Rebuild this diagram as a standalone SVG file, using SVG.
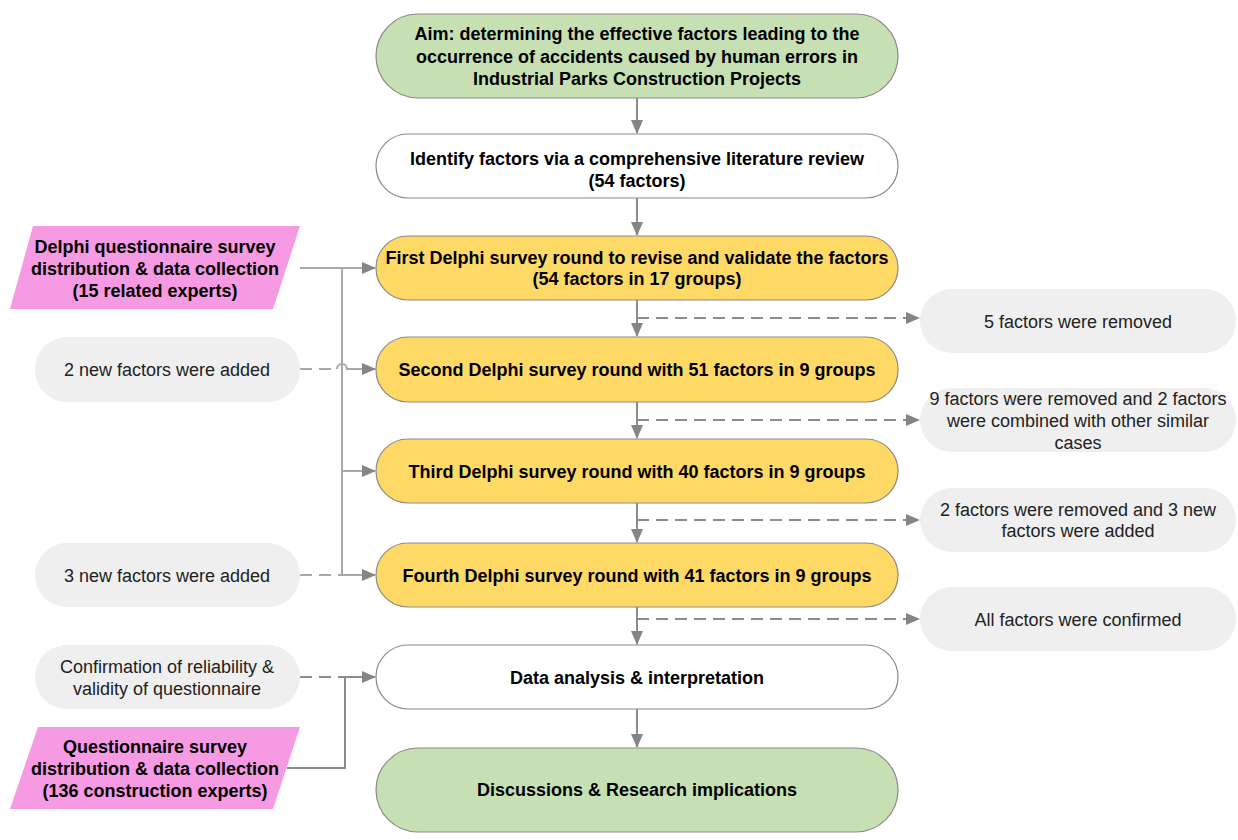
<svg xmlns="http://www.w3.org/2000/svg" width="1238" height="840" viewBox="0 0 1238 840">
<style>
.main{stroke:#8a8a8a;stroke-width:1.2}
.green{fill:#c6e0b4}
.yellow{fill:#ffd966}
.white{fill:#ffffff}
.pink{fill:#f59ae3}
.gray{fill:#efefef}
.tb{font-family:"Liberation Sans",Arial,sans-serif;font-weight:bold;font-size:18px;fill:#000;text-anchor:middle}
.tr{font-family:"Liberation Sans",Arial,sans-serif;font-size:18px;fill:#222;text-anchor:middle}
.ln{fill:none;stroke:#8c8c8c;stroke-width:2}
.lnl{fill:none;stroke:#a8a8a8;stroke-width:2}
.dash{stroke-dasharray:12 7}
</style>
<defs>
<marker id="ah" markerUnits="userSpaceOnUse" markerWidth="14" markerHeight="12" refX="13" refY="6" orient="auto">
<path d="M0,0 L14,6 L0,12 z" fill="#858585"/>
</marker>
</defs>
<rect width="1238" height="840" fill="#ffffff"/>

<g id="connectors">
<path class="ln" d="M637,98 V133" marker-end="url(#ah)"/>
<path class="ln" d="M637,198 V235" marker-end="url(#ah)"/>
<path class="ln" d="M637,300 V336" marker-end="url(#ah)"/>
<path class="ln" d="M637,402 V438" marker-end="url(#ah)"/>
<path class="ln" d="M637,503 V542" marker-end="url(#ah)"/>
<path class="ln" d="M637,607 V644" marker-end="url(#ah)"/>
<path class="ln" d="M637,709 V747" marker-end="url(#ah)"/>
<path class="ln dash" d="M637,318 H919" marker-end="url(#ah)"/>
<path class="ln dash" d="M637,420 H919" marker-end="url(#ah)"/>
<path class="ln dash" d="M637,520 H919" marker-end="url(#ah)"/>
<path class="ln dash" d="M637,619 H919" marker-end="url(#ah)"/>
<path class="lnl" d="M300,268 H375" marker-end="url(#ah)"/>
<path class="lnl" d="M342,268 V575 H375" marker-end="url(#ah)"/>
<path class="lnl" d="M342,471 H375" marker-end="url(#ah)"/>
<path class="lnl dash" d="M300,369 H337"/>
<path class="lnl" d="M337,369 A5,5 0 0 1 347,369 H375" marker-end="url(#ah)"/>
<path class="lnl dash" d="M300,575 H342"/>
<path class="ln dash" d="M300,677 H345"/>
<path class="ln" d="M287,768 H345 V677 H375" marker-end="url(#ah)"/>
</g>

<g id="aim">
<rect class="main green" x="376" y="14" width="522" height="84" rx="42"/>
<text class="tb" x="637" y="40">Aim: determining the effective factors leading to the</text>
<text class="tb" x="637" y="63">occurrence of accidents caused by human errors in</text>
<text class="tb" x="637" y="85">Industrial Parks Construction Projects</text>
</g>
<g id="identify">
<rect class="main white" x="376" y="134" width="522" height="64" rx="32"/>
<text class="tb" x="637" y="165">Identify factors via a comprehensive literature review</text>
<text class="tb" x="637" y="187">(54 factors)</text>
</g>
<g id="first">
<rect class="main yellow" x="376" y="236" width="522" height="64" rx="32"/>
<text class="tb" x="637" y="264">First Delphi survey round to revise and validate the factors</text>
<text class="tb" x="637" y="285">(54 factors in 17 groups)</text>
</g>
<g id="second">
<rect class="main yellow" x="376" y="337" width="522" height="65" rx="32"/>
<text class="tb" x="637" y="376">Second Delphi survey round with 51 factors in 9 groups</text>
</g>
<g id="third">
<rect class="main yellow" x="376" y="439" width="522" height="64" rx="32"/>
<text class="tb" x="637" y="478">Third Delphi survey round with 40 factors in 9 groups</text>
</g>
<g id="fourth">
<rect class="main yellow" x="376" y="543" width="522" height="64" rx="32"/>
<text class="tb" x="637" y="582">Fourth Delphi survey round with 41 factors in 9 groups</text>
</g>
<g id="analysis">
<rect class="main white" x="376" y="645" width="522" height="64" rx="32"/>
<text class="tb" x="637" y="684">Data analysis &amp; interpretation</text>
</g>
<g id="discussions">
<rect class="main green" x="376" y="748" width="522" height="84" rx="42"/>
<text class="tb" x="637" y="796">Discussions &amp; Research implications</text>
</g>

<g id="delphi-distribution">
<polygon class="pink" points="33,226 300,226 273,309 10,309"/>
<text class="tb" x="155" y="253">Delphi questionnaire survey</text>
<text class="tb" x="155" y="275">distribution &amp; data collection</text>
<text class="tb" x="155" y="297">(15 related experts)</text>
</g>
<g id="survey-distribution">
<polygon class="pink" points="38,727 300,727 273,809 10,809"/>
<text class="tb" x="155" y="753">Questionnaire survey</text>
<text class="tb" x="155" y="775">distribution &amp; data collection</text>
<text class="tb" x="155" y="797">(136 construction experts)</text>
</g>
<g id="added2">
<rect class="gray" x="35" y="337" width="265" height="65" rx="32"/>
<text class="tr" x="167" y="376">2 new factors were added</text>
</g>
<g id="added3">
<rect class="gray" x="35" y="543" width="265" height="64" rx="32"/>
<text class="tr" x="167" y="582">3 new factors were added</text>
</g>
<g id="confirmation">
<rect class="gray" x="35" y="645" width="265" height="64" rx="32"/>
<text class="tr" x="167" y="673">Confirmation of reliability &amp;</text>
<text class="tr" x="167" y="695">validity of questionnaire</text>
</g>
<g id="removed5">
<rect class="gray" x="920" y="289" width="316" height="64" rx="32"/>
<text class="tr" x="1078" y="328">5 factors were removed</text>
</g>
<g id="removed9">
<rect class="gray" x="920" y="388" width="316" height="64" rx="32"/>
<text class="tr" x="1078" y="405">9 factors were removed and 2 factors</text>
<text class="tr" x="1078" y="427">were combined with other similar</text>
<text class="tr" x="1078" y="449">cases</text>
</g>
<g id="removed2">
<rect class="gray" x="920" y="488" width="316" height="64" rx="32"/>
<text class="tr" x="1078" y="516">2 factors were removed and 3 new</text>
<text class="tr" x="1078" y="537">factors were added</text>
</g>
<g id="confirmed">
<rect class="gray" x="920" y="587" width="316" height="64" rx="32"/>
<text class="tr" x="1078" y="626">All factors were confirmed</text>
</g>
</svg>
